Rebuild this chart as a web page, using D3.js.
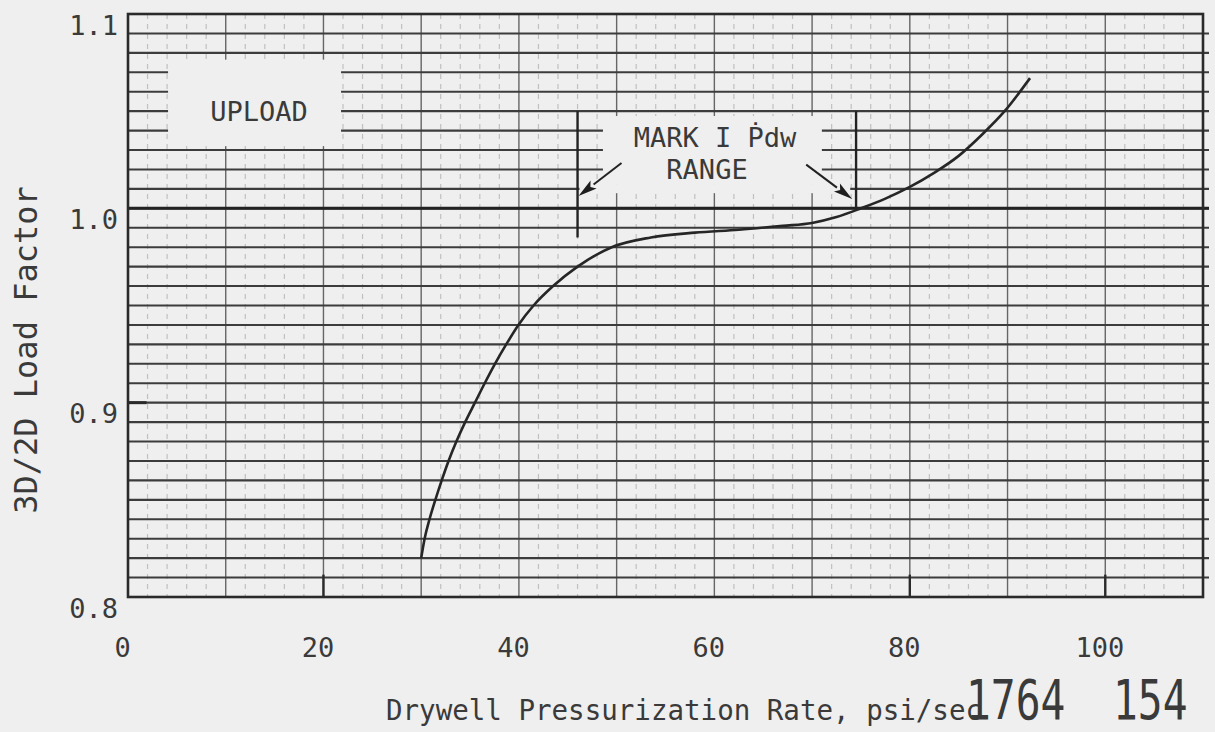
<!DOCTYPE html>
<html>
<head>
<meta charset="utf-8">
<script src="https://cdn.jsdelivr.net/npm/d3@7"></script>
<style>
  html, body { margin: 0; padding: 0; background: #efefef; }
  svg { display: block; }
  text { font-family: "DejaVu Sans Mono", "Liberation Mono", monospace; fill: #3a3a3a; }
</style>
</head>
<body>
<svg id="chart" width="1215" height="732"></svg>
<script>
// Drywell pressurization rate (psi/sec) vs 3D/2D load factor curve
const rate = [30, 30.35, 30.85, 31.45, 32.1, 32.8, 33.6, 34.5, 35.5, 36.5, 37.55, 38.7, 39.95, 41.5, 43.5, 46.0, 49.5, 53.5, 58, 62.5, 67, 70, 72.5, 75, 77.5, 80, 82.4, 85, 87.4, 89.7, 92.3];
const loadFactor = [0.82, 0.83, 0.84, 0.85, 0.86, 0.87, 0.88, 0.89, 0.90, 0.91, 0.92, 0.93, 0.94, 0.95, 0.96, 0.97, 0.98, 0.985, 0.9875, 0.989, 0.991, 0.9925, 0.9955, 1.0, 1.005, 1.011, 1.018, 1.027, 1.038, 1.05, 1.067];

// Axis ticks and labels
const xTicks = [0, 20, 40, 60, 80, 100];
const xTickLabels = ["0", "20", "40", "60", "80", "100"];
const yTicks = [0.8, 0.9, 1.0, 1.1];
const yTickLabels = ["0.8", "0.9", "1.0", "1.1"];

// Mark I Pdw range bracket (psi/sec)
const pdwRange = [46, 74.5];

const svg = d3.select("#chart");
const x = d3.scaleLinear().domain([0, 110]).range([128, 1203]);
const y = d3.scaleLinear().domain([0.8, 1.1]).range([597, 14]);

svg.append("rect").attr("width", 1215).attr("height", 732).attr("fill", "#efefef");

const grid = svg.append("g");

// minor verticals every 2 psi/sec, faint and broken
grid.selectAll(".vminor").data(d3.range(2, 110, 2).filter(v => v % 10 !== 0))
  .join("line")
  .attr("x1", d => x(d)).attr("x2", d => x(d))
  .attr("y1", y(1.1)).attr("y2", y(0.8))
  .attr("stroke", "#c0c0c0").attr("stroke-width", 1.2)
  .attr("stroke-dasharray", "5,5");

// major verticals every 10 psi/sec
grid.selectAll(".vmajor").data(d3.range(10, 110, 10))
  .join("line")
  .attr("x1", d => x(d)).attr("x2", d => x(d))
  .attr("y1", y(1.1)).attr("y2", y(0.8))
  .attr("stroke", "#666").attr("stroke-width", 1.4);

// horizontals every 0.01
grid.selectAll(".h").data(d3.range(1, 30).map(i => 0.8 + i * 0.01))
  .join("line")
  .attr("x1", x(0)).attr("x2", x(110) + 6)
  .attr("y1", d => y(d)).attr("y2", d => y(d))
  .attr("stroke", "#3c3c3c").attr("stroke-width", 2.1);

// blank label areas on the grid
const blanks = [
  { x0: 4.1, x1: 21.8, y0: 1.0765, y1: 1.032 },
  { x0: 48.6, x1: 71.0, y0: 1.0475, y1: 1.0125 },
  { x0: 46.2, x1: 73.9, y0: 1.0125, y1: 1.0078 }
];
svg.selectAll(".blank").data(blanks).join("rect")
  .attr("x", d => x(d.x0)).attr("width", d => x(d.x1) - x(d.x0))
  .attr("y", d => y(d.y0)).attr("height", d => y(d.y1) - y(d.y0))
  .attr("fill", "#efefef");

// reference line at 1.0
svg.append("line")
  .attr("x1", x(0)).attr("x2", x(110) + 6)
  .attr("y1", y(1.0)).attr("y2", y(1.0))
  .attr("stroke", "#222").attr("stroke-width", 3);

// frame
svg.append("rect")
  .attr("x", x(0)).attr("y", y(1.1))
  .attr("width", x(110) - x(0)).attr("height", y(0.8) - y(1.1))
  .attr("fill", "none").attr("stroke", "#2a2a2a").attr("stroke-width", 2.6);

// tick stubs
svg.selectAll(".xstub").data([20, 80, 100]).join("line")
  .attr("x1", d => x(d)).attr("x2", d => x(d))
  .attr("y1", y(0.8)).attr("y2", y(0.8115))
  .attr("stroke", "#2a2a2a").attr("stroke-width", 2.4);
svg.append("line")
  .attr("x1", x(0)).attr("x2", x(1.9))
  .attr("y1", y(0.9)).attr("y2", y(0.9))
  .attr("stroke", "#2a2a2a").attr("stroke-width", 3);

// load factor curve
const line = d3.line()
  .x(d => x(d[0])).y(d => y(d[1]))
  .curve(d3.curveMonotoneX);
svg.append("path")
  .datum(rate.map((r, i) => [r, loadFactor[i]]))
  .attr("d", line)
  .attr("fill", "none").attr("stroke", "#262626").attr("stroke-width", 2.6);

// range brackets
svg.append("line")
  .attr("x1", x(pdwRange[0])).attr("x2", x(pdwRange[0]))
  .attr("y1", y(1.05)).attr("y2", y(0.985))
  .attr("stroke", "#222").attr("stroke-width", 2.4);
svg.append("line")
  .attr("x1", x(pdwRange[1])).attr("x2", x(pdwRange[1]))
  .attr("y1", y(1.05)).attr("y2", y(1.0))
  .attr("stroke", "#222").attr("stroke-width", 2.4);

// arrows pointing to the bracket lines
const arrows = [
  { from: [50.5, 1.0233], to: [46.1, 1.0063] },
  { from: [69.4, 1.0225], to: [74.1, 1.0048] }
];
arrows.forEach(a => {
  const x1 = x(a.from[0]), y1 = y(a.from[1]);
  const x2 = x(a.to[0]), y2 = y(a.to[1]);
  const ang = Math.atan2(y2 - y1, x2 - x1);
  const len = 19, half = 5;
  const bx = x2 - len * Math.cos(ang), by = y2 - len * Math.sin(ang);
  svg.append("line")
    .attr("x1", x1).attr("y1", y1).attr("x2", bx).attr("y2", by)
    .attr("stroke", "#222").attr("stroke-width", 2);
  const pts = [
    [x2, y2],
    [bx + half * Math.sin(ang), by - half * Math.cos(ang)],
    [bx + 4 * Math.cos(ang), by + 4 * Math.sin(ang)],
    [bx - half * Math.sin(ang), by + half * Math.cos(ang)]
  ];
  svg.append("polygon").attr("points", pts.map(p => p.join(",")).join(" "))
    .attr("fill", "#1e1e1e");
});

// annotations
svg.append("text").attr("x", 259).attr("y", 121).attr("text-anchor", "middle")
  .attr("font-size", 27).text("UPLOAD");
svg.append("text").attr("x", 715).attr("y", 147).attr("text-anchor", "middle")
  .attr("font-size", 27).text("MARK I Ṗdw");
svg.append("text").attr("x", 707).attr("y", 179).attr("text-anchor", "middle")
  .attr("font-size", 27).text("RANGE");

// x axis labels
const xAxis = d3.axisBottom(x).tickValues(xTicks)
  .tickFormat((d, i) => xTickLabels[i]).tickSize(0);
const gx = svg.append("g").attr("transform", `translate(0,${y(0.8)})`).call(xAxis);
gx.select(".domain").remove();
gx.selectAll("text")
  .attr("font-size", 27).attr("font-family", "DejaVu Sans Mono")
  .attr("fill", "#444").attr("dy", null).attr("y", 60).attr("dx", -6);

// y axis labels
const yAxis = d3.axisLeft(y).tickValues(yTicks)
  .tickFormat((d, i) => yTickLabels[i]).tickSize(0);
const gy = svg.append("g").attr("transform", `translate(${x(0)},0)`).call(yAxis);
gy.select(".domain").remove();
gy.selectAll("text")
  .attr("font-size", 27).attr("font-family", "DejaVu Sans Mono")
  .attr("fill", "#444").attr("x", -10).attr("dy", "0.75em");

// axis titles
svg.append("text").attr("transform", "translate(37,350) rotate(-90)")
  .attr("text-anchor", "middle").attr("font-size", 32).attr("fill", "#3a3a3a")
  .text("3D/2D Load Factor");
svg.append("text").attr("x", 386).attr("y", 720)
  .attr("font-size", 27.5).attr("fill", "#444")
  .text("Drywell Pressurization Rate, psi/sec");

// document stamp, condensed digits
const stamp = svg.append("g").attr("font-family", "DejaVu Sans")
  .attr("font-size", 55);
stamp.append("text").attr("transform", "translate(966,719) scale(0.75,1)")
  .attr("fill", "#2a2a2a").text("1764");
stamp.append("text").attr("transform", "translate(1113,719) scale(0.75,1)")
  .attr("fill", "#2a2a2a").text("154");
</script>
</body>
</html>
